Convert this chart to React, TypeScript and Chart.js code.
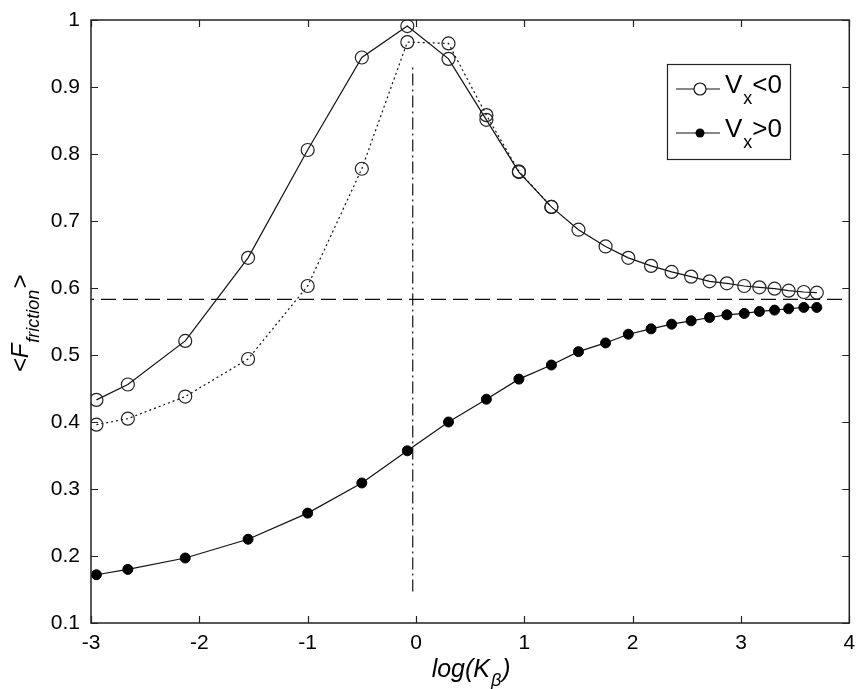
import React, { useEffect, useRef } from "react";
import { Chart, registerables } from "chart.js";
Chart.register(...registerables);

// ---- data ----
const xValues = [-2.95, -2.66, -2.13, -1.55, -1.0, -0.5, -0.08, 0.3, 0.65, 0.95, 1.25, 1.5, 1.75, 1.96, 2.17, 2.36, 2.54, 2.71, 2.87, 3.03, 3.17, 3.31, 3.44, 3.58, 3.7];
const vNegSolid = [0.433, 0.456, 0.521, 0.645, 0.806, 0.944, 0.991, 0.942, 0.851, 0.773, 0.721, 0.687, 0.662, 0.645, 0.633, 0.624, 0.617, 0.61, 0.607, 0.603, 0.601, 0.599, 0.596, 0.594, 0.593];
const vNegDotted = [0.396, 0.405, 0.438, 0.494, 0.603, 0.778, 0.967, 0.965, 0.858, 0.774, 0.721];
const vPos = [0.172, 0.18, 0.197, 0.225, 0.264, 0.309, 0.357, 0.4, 0.434, 0.464, 0.485, 0.505, 0.518, 0.531, 0.539, 0.546, 0.551, 0.556, 0.56, 0.562, 0.565, 0.567, 0.569, 0.571, 0.571];
const xTicks = [-3, -2, -1, 0, 1, 2, 3, 4];
const yTicks = [0.1, 0.2, 0.3, 0.4, 0.5, 0.6, 0.7, 0.8, 0.9, 1];
const hRefY = 0.583;
const hRefX = [-3, 4];
const vRefX = -0.03;
const vRefY = [0.147, 0.93];
const xTitle = ["log(K", "β", ")"];
const yTitle = ["<F", "friction", ">"];
const legendItems = [
  { main: "V", sub: "x", rest: "<0", filled: false },
  { main: "V", sub: "x", rest: ">0", filled: true },
];

const FONT = '"Liberation Sans", Arial, Helvetica, sans-serif';

const decor = {
  id: "decor",
  afterDraw(chart: any) {
    const { ctx, chartArea, scales } = chart;
    const { left, right, top, bottom } = chartArea;
    const xs = scales.x, ys = scales.y;
    ctx.save();
    // frame
    ctx.strokeStyle = "#222";
    ctx.lineWidth = 1.5;
    ctx.strokeRect(left, top, right - left, bottom - top);
    // inward ticks
    ctx.lineWidth = 1.2;
    ctx.beginPath();
    xTicks.forEach((v) => {
      const px = Math.round(xs.getPixelForValue(v)) + 0.5;
      ctx.moveTo(px, bottom); ctx.lineTo(px, bottom - 7);
      ctx.moveTo(px, top); ctx.lineTo(px, top + 7);
    });
    yTicks.forEach((v) => {
      const py = Math.round(ys.getPixelForValue(v)) + 0.5;
      ctx.moveTo(left, py); ctx.lineTo(left + 7, py);
      ctx.moveTo(right, py); ctx.lineTo(right - 7, py);
    });
    ctx.stroke();

    // legend
    const bx = left + 576, by = top + 44, bw = 123, bh = 95;
    ctx.fillStyle = "#fff";
    ctx.fillRect(bx, by, bw, bh);
    ctx.strokeStyle = "#222";
    ctx.lineWidth = 1.2;
    ctx.strokeRect(bx + 0.5, by + 0.5, bw, bh);
    legendItems.forEach((it, i) => {
      const ry = by + 25 + i * 44;
      ctx.strokeStyle = "#111";
      ctx.lineWidth = 1.2;
      ctx.beginPath();
      ctx.moveTo(bx + 9, ry); ctx.lineTo(bx + 53, ry);
      ctx.stroke();
      ctx.beginPath();
      if (it.filled) {
        ctx.fillStyle = "#000";
        ctx.arc(bx + 33, ry, 4.5, 0, Math.PI * 2);
        ctx.fill();
      } else {
        ctx.fillStyle = "#fff";
        ctx.arc(bx + 33, ry, 6, 0, Math.PI * 2);
        ctx.fill();
        ctx.stroke();
      }
      ctx.fillStyle = "#000";
      ctx.textBaseline = "alphabetic";
      ctx.textAlign = "left";
      let tx = bx + 58;
      ctx.font = `26px ${FONT}`;
      ctx.fillText(it.main, tx, ry + 4);
      tx += ctx.measureText(it.main).width + 1;
      ctx.font = `18px ${FONT}`;
      ctx.fillText(it.sub, tx, ry + 15);
      tx += ctx.measureText(it.sub).width;
      ctx.font = `26px ${FONT}`;
      ctx.fillText(it.rest, tx, ry + 4);
    });

    // x title
    const drawTitle = (parts: string[], cx: number, cy: number, rot: number, mainSize: number, subSize: number, subShift: number) => {
      ctx.save();
      ctx.translate(cx, cy);
      ctx.rotate(rot);
      ctx.fillStyle = "#000";
      ctx.textAlign = "left";
      ctx.textBaseline = "alphabetic";
      ctx.font = `italic ${mainSize}px ${FONT}`;
      const w0 = ctx.measureText(parts[0]).width;
      const w2 = ctx.measureText(parts[2]).width;
      ctx.font = `italic ${subSize}px ${FONT}`;
      const w1 = ctx.measureText(parts[1]).width;
      let tx = -(w0 + w1 + w2) / 2;
      ctx.font = `italic ${mainSize}px ${FONT}`;
      ctx.fillText(parts[0], tx, 0);
      tx += w0 + 1;
      ctx.font = `italic ${subSize}px ${FONT}`;
      ctx.fillText(parts[1], tx, subShift);
      tx += w1 + 1;
      ctx.font = `italic ${mainSize}px ${FONT}`;
      ctx.fillText(parts[2], tx, 0);
      ctx.restore();
    };
    drawTitle(xTitle, (left + right) / 2, 677, 0, 25, 18, 9);
    drawTitle(yTitle, 28, (top + bottom) / 2 + 3, -Math.PI / 2, 24, 18, 11);
    ctx.restore();
  },
};

export default function App() {
  const ref = useRef<HTMLCanvasElement>(null);
  useEffect(() => {
    if (!ref.current) return;
    const pts = (ys: number[]) => ys.map((y, i) => ({ x: xValues[i], y }));
    const chart = new Chart(ref.current, {
      type: "scatter",
      data: {
        datasets: [
          {
            label: "Vx<0",
            data: pts(vNegSolid),
            showLine: true,
            borderColor: "#111",
            borderWidth: 1.2,
            pointRadius: 6.5,
            pointBackgroundColor: "rgba(255,255,255,0)",
            pointBorderColor: "#222",
            pointBorderWidth: 1.2,
          },
          {
            label: "Vx<0 b",
            data: pts(vNegDotted),
            showLine: true,
            borderColor: "#111",
            borderWidth: 1.2,
            borderDash: [2, 3],
            pointRadius: 6.5,
            pointBackgroundColor: "rgba(255,255,255,0)",
            pointBorderColor: "#222",
            pointBorderWidth: 1.2,
          },
          {
            label: "Vx>0",
            data: pts(vPos),
            showLine: true,
            borderColor: "#111",
            borderWidth: 1.2,
            pointRadius: 5,
            pointBackgroundColor: "#000",
            pointBorderColor: "#000",
            pointBorderWidth: 1,
          },
          {
            label: "h",
            data: hRefX.map((x) => ({ x, y: hRefY })),
            showLine: true,
            borderColor: "#111",
            borderWidth: 1.2,
            borderDash: [15, 7],
            borderDashOffset: 12,
            pointRadius: 0,
          },
          {
            label: "v",
            data: vRefY.map((y) => ({ x: vRefX, y })),
            showLine: true,
            borderColor: "#111",
            borderWidth: 1.2,
            borderDash: [12, 4, 2, 4],
            pointRadius: 0,
          },
        ],
      },
      options: {
        responsive: false,
        animation: false,
        devicePixelRatio: 1,
        layout: { padding: { left: 0, right: 7, top: 20, bottom: 0 } },
        plugins: { legend: { display: false }, tooltip: { enabled: false } },
        scales: {
          x: {
            type: "linear",
            min: -3,
            max: 4,
            grid: { display: false, drawTicks: false },
            border: { display: false },
            ticks: {
              autoSkip: false,
              maxRotation: 0,
              padding: 8,
              color: "#000",
              font: { family: FONT, size: 21 },
              callback: (v: any) => String(v),
            },
            afterBuildTicks: (s: any) => { s.ticks = xTicks.map((value) => ({ value })); },
            afterFit: (s: any) => { s.height = 66; s.paddingLeft = 0; s.paddingRight = 0; },
          },
          y: {
            type: "linear",
            min: 0.1,
            max: 1,
            grid: { display: false, drawTicks: false },
            border: { display: false },
            ticks: {
              autoSkip: false,
              padding: 11,
              color: "#000",
              font: { family: FONT, size: 21 },
              callback: (v: any) => String(Math.round(Number(v) * 10) / 10),
            },
            afterBuildTicks: (s: any) => { s.ticks = yTicks.map((value) => ({ value })); },
            afterFit: (s: any) => { s.width = 91; s.paddingTop = 0; s.paddingBottom = 0; },
          },
        },
      },
      plugins: [decor],
    });
    return () => chart.destroy();
  }, []);
  return (
    <div style={{ position: "fixed", left: 0, top: 0, width: 857, height: 689, background: "#fff" }}>
      <canvas ref={ref} width={857} height={689} style={{ display: "block" }} />
    </div>
  );
}
